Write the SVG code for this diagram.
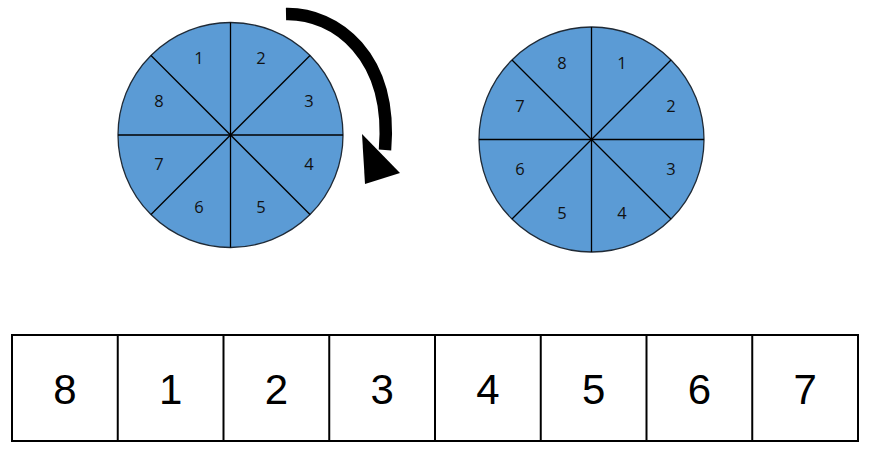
<svg xmlns="http://www.w3.org/2000/svg" width="870" height="455" viewBox="0 0 870 455">
<style>
.disc{fill:#5B9BD5;stroke:#1f2a36;stroke-width:1.3}
.sp{stroke:#000;stroke-width:1.3}
.sl{font-family:"Open Sans","DejaVu Sans",sans-serif;font-size:16.5px;fill:#111;text-anchor:middle}
.cell{fill:#fff;stroke:#000;stroke-width:2}
.bl{font-family:"Liberation Sans",Arial,sans-serif;font-size:42px;fill:#000;text-anchor:middle}
</style>
<rect width="870" height="455" fill="#fff"/>
<g id="wheel-before">
<circle class="disc" cx="230.5" cy="135" r="112.5"/>
<line class="sp" x1="118" y1="135" x2="343" y2="135"/>
<line class="sp" x1="230.5" y1="22.5" x2="230.5" y2="247.5"/>
<line class="sp" x1="151" y1="55.5" x2="310" y2="214.5"/>
<line class="sp" x1="310" y1="55.5" x2="151" y2="214.5"/>
<text class="sl" x="199" y="64">1</text>
<text class="sl" x="261" y="64">2</text>
<text class="sl" x="159" y="107">8</text>
<text class="sl" x="309" y="107">3</text>
<text class="sl" x="159" y="170">7</text>
<text class="sl" x="309" y="170">4</text>
<text class="sl" x="199" y="213">6</text>
<text class="sl" x="261" y="213">5</text>
</g>
<g id="wheel-after">
<circle class="disc" cx="591.5" cy="139.5" r="112.5"/>
<line class="sp" x1="479" y1="139.5" x2="704" y2="139.5"/>
<line class="sp" x1="591.5" y1="27" x2="591.5" y2="252"/>
<line class="sp" x1="512" y1="60" x2="671" y2="219"/>
<line class="sp" x1="671" y1="60" x2="512" y2="219"/>
<text class="sl" x="562" y="69">8</text>
<text class="sl" x="622" y="69">1</text>
<text class="sl" x="520" y="112">7</text>
<text class="sl" x="671" y="112">2</text>
<text class="sl" x="520" y="175">6</text>
<text class="sl" x="671" y="175">3</text>
<text class="sl" x="562" y="219">5</text>
<text class="sl" x="622" y="219">4</text>
</g>
<g id="connectors">
<path d="M286,14 C336,13 393,56 385,150" fill="none" stroke="#000" stroke-width="12.5"/>
<polygon points="362,134 400,173 365,184" fill="#000"/>
</g>
<g id="array">
<rect class="cell" x="12" y="335" width="846" height="106"/>
<line class="cell" x1="117.75" y1="335" x2="117.75" y2="441"/>
<line class="cell" x1="223.5" y1="335" x2="223.5" y2="441"/>
<line class="cell" x1="329.25" y1="335" x2="329.25" y2="441"/>
<line class="cell" x1="435" y1="335" x2="435" y2="441"/>
<line class="cell" x1="540.75" y1="335" x2="540.75" y2="441"/>
<line class="cell" x1="646.5" y1="335" x2="646.5" y2="441"/>
<line class="cell" x1="752.25" y1="335" x2="752.25" y2="441"/>
<text class="bl" x="64.9" y="404">8</text>
<text class="bl" x="170.6" y="404">1</text>
<text class="bl" x="276.4" y="404">2</text>
<text class="bl" x="382.1" y="404">3</text>
<text class="bl" x="487.9" y="404">4</text>
<text class="bl" x="593.6" y="404">5</text>
<text class="bl" x="699.4" y="404">6</text>
<text class="bl" x="805.1" y="404">7</text>
</g>
</svg>
